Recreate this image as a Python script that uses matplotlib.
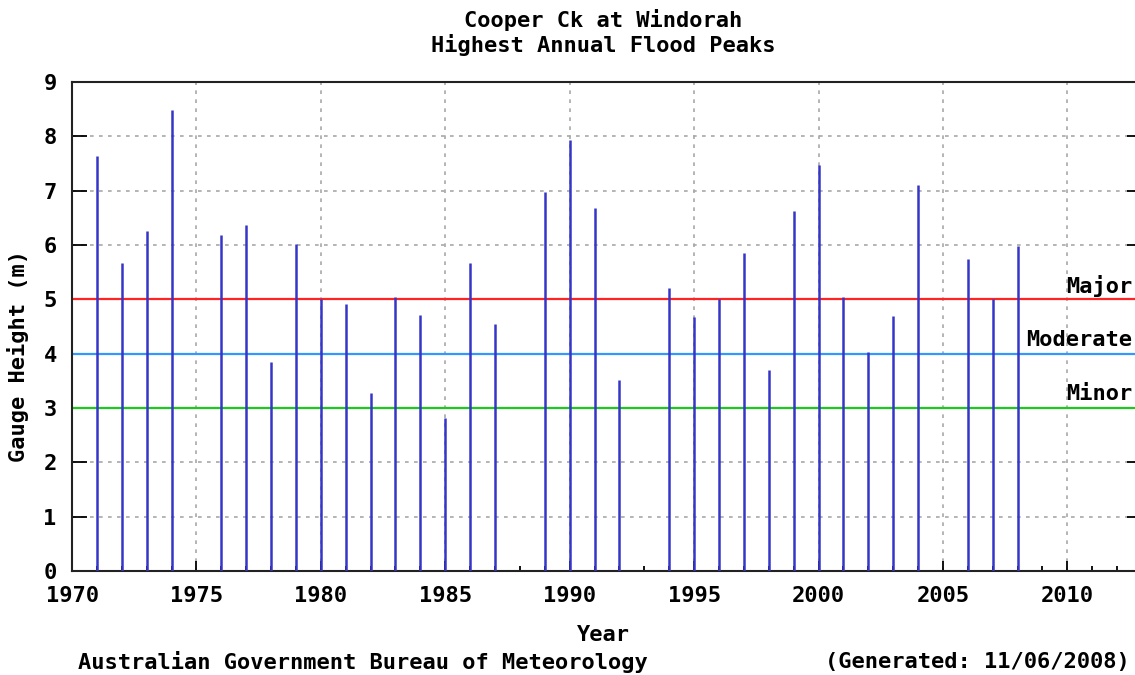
"""Cooper Ck at Windorah - highest annual flood peaks (BoM style impulse chart)."""

import matplotlib

matplotlib.use("Agg")
import matplotlib.pyplot as plt
from matplotlib.ticker import MultipleLocator
from matplotlib.transforms import blended_transform_factory


years = [1971, 1972, 1973, 1974, 1976, 1977, 1978, 1979, 1980, 1981, 1982, 1983,
         1984, 1985, 1986, 1987, 1989, 1990, 1991, 1992, 1994, 1995, 1996, 1997,
         1998, 1999, 2000, 2001, 2002, 2003, 2004, 2006, 2007, 2008]
peaks_m = [7.64, 5.67, 6.26, 8.49, 6.18, 6.37, 3.85, 6.01, 5.01, 4.91, 3.27, 5.05,
           4.72, 2.82, 5.67, 4.54, 6.98, 7.93, 6.69, 3.52, 5.20, 4.68, 5.01, 5.86,
           3.70, 6.63, 7.47, 5.05, 4.03, 4.69, 7.10, 5.74, 5.01, 5.98]

flood_levels = [5, 4, 3]
flood_names = ["Major", "Moderate", "Minor"]
flood_colors = ["#ff2424", "#3399ff", "#1ec81e"]

FONT = {"family": "DejaVu Sans Mono", "weight": "bold", "size": 15.8}
W, H = 1135, 675

fig = plt.figure(figsize=(W / 100, H / 100), dpi=100)
ax = fig.add_axes([72 / W, 1 - 571 / H, (1142 - 72) / W, (571 - 82) / H])

ax.vlines(years, 0, peaks_m, color="#3535c8", linewidth=1.8, zorder=3)
for level, color in zip(flood_levels, flood_colors):
    ax.axhline(level, color=color, linewidth=1.6, zorder=2)

label_tf = blended_transform_factory(fig.transFigure, ax.transData)
for level, name in zip(flood_levels, flood_names):
    fig.text(1132 / W, level + 0.25, name, transform=label_tf, ha="right",
             va="center", **FONT)

ax.set_xlim(1970, 2013)
ax.set_ylim(0, 9)
ax.xaxis.set_major_locator(MultipleLocator(5))
ax.xaxis.set_minor_locator(MultipleLocator(1))
ax.yaxis.set_major_locator(MultipleLocator(1))
ax.grid(True, which="major", color="#a8a8a8", linestyle=(0, (2.2, 3.2)), linewidth=1.2)
ax.set_axisbelow(True)

ax.tick_params(axis="x", which="major", direction="in", length=7.5, width=1.3,
               pad=11, top=False)
ax.tick_params(axis="x", which="minor", direction="in", length=3.8, width=1.3, top=False)
ax.tick_params(axis="y", which="major", direction="in", length=10.5, width=1.3,
               pad=11, right=True)
for label in ax.get_xticklabels() + ax.get_yticklabels():
    label.set_fontfamily(FONT["family"])
    label.set_fontweight("bold")
    label.set_fontsize(FONT["size"])
for spine in ax.spines.values():
    spine.set_linewidth(1.5)
    spine.set_color("#222222")

fig.text(603 / W, 1 - 20 / H, "Cooper Ck at Windorah", ha="center", va="center", **FONT)
fig.text(603 / W, 1 - 45 / H, "Highest Annual Flood Peaks", ha="center", va="center", **FONT)
fig.text(18 / W, 1 - 356 / H, "Gauge Height (m)", rotation=90, ha="center",
         va="center", **FONT)
fig.text(603 / W, 1 - 635 / H, "Year", ha="center", va="center", **FONT)
fig.text(78 / W, 1 - 662 / H, "Australian Government Bureau of Meteorology",
         ha="left", va="center", **FONT)
fig.text(1130 / W, 1 - 662 / H, "(Generated: 11/06/2008)", ha="right",
         va="center", **FONT)

fig.savefig("out.png", dpi=100)
